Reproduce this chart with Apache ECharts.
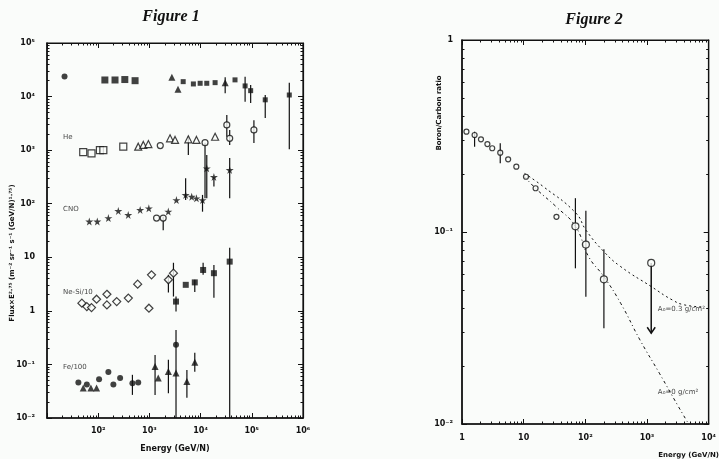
<!DOCTYPE html>
<html><head><meta charset="utf-8">
<script src="https://cdn.jsdelivr.net/npm/echarts@6/dist/echarts.min.js"></script>
<style>html,body{margin:0;padding:0;background:#fafcfa}#c{width:719px;height:459px}</style>
</head><body><div id="c"></div>
<script>
// ---------- Figure 1 data (Energy GeV/N, Flux*E^2.75) ----------
const pCircE = [22];
const pCircV = [23600];
const pSqE = [135, 213, 331, 525];
const pSqV = [20400, 20400, 20800, 19800];
const pTriE = [2750, 3620, 30200];
const pTriV = [23000, 13700, 18200];
const pOthE = [4570, 7230, 9800, 13200, 19200, 47000, 74000, 95000, 183000, 540000];
const pOthV = [19000, 17200, 17700, 17700, 18200, 20500, 15800, 12900, 8700, 10700];

const heSqE = [51, 74, 108, 126, 309];
const heSqV = [920, 870, 1000, 1000, 1160];
const heTriE = [605, 760, 955, 2530, 3170, 5760, 8300, 19200];
const heTriV = [1160, 1250, 1300, 1660, 1550, 1590, 1550, 1780];
const heCircE = [1630, 12200, 32500, 37000, 110000];
const heCircV = [1215, 1380, 2950, 1660, 2380];

const cnoStarE = [67, 96, 158, 247, 386, 660, 975, 2340, 3370, 5100, 6700, 8300, 10900, 13200, 18200, 37000];
const cnoStarV = [46.6, 46.6, 53.9, 73.5, 61.8, 76.5, 82, 71.3, 117, 146, 135, 126, 117, 458, 316, 427];
const cnoCircE = [1380, 1860];
const cnoCircV = [53.9, 53.9];

const neDiaE = [48, 60, 74, 93, 148, 148, 230, 388, 590, 980, 1100, 2350, 2950];
const neDiaV = [1.39, 1.2, 1.15, 1.65, 2.04, 1.29, 1.49, 1.73, 3.15, 1.12, 4.7, 3.8, 5.05];
const neFilE = [3310, 5130, 7700, 11200, 18200, 37000];
const neFilV = [1.49, 3.06, 3.4, 5.8, 5.05, 8.3];

const feCircE = [41, 60, 104, 158, 198, 268, 466, 605, 3310];
const feCircV = [0.046, 0.042, 0.053, 0.072, 0.042, 0.0556, 0.0447, 0.046, 0.232];
const feTriE = [51, 72, 93, 1290, 1490, 2350, 3310, 5400, 7700];
const feTriV = [0.0363, 0.0363, 0.0363, 0.091, 0.0556, 0.074, 0.069, 0.048, 0.11];

const err1E  = [30200, 74000, 95000, 183000, 540000, 5760, 12200, 32500, 37000, 110000, 5100, 10900, 13200, 18200, 37000, 1860, 2950, 2350, 3310, 18200, 7700, 11200, 37000, 466, 1290, 2350, 3310, 5400, 7700];
const err1Hi = [22900, 23500, 16400, 10700, 18200, 1800, 1380, 4540, 2380, 3630, 300, 146, 813, 316, 716, 57, 7.9, 4.7, 1.85, 7.2, 3.8, 7.9, 15, 0.064, 0.15, 0.122, 0.44, 0.079, 0.166];
const err1Lo = [11500, 8040, 7590, 3980, 1040, 813, 126, 1780, 1250, 1360, 117, 71, 126, 209, 126, 32, 1.85, 2.2, 0.97, 1.75, 2.26, 4.7, 0.01, 0.027, 0.027, 0.029, 0.01, 0.024, 0.073];

const groupNames = ['He', 'CNO', 'Ne-Si/10', 'Fe/100'];
const groupLabE = [20.6, 20.6, 20.6, 20.6];
const groupLabV = [1760, 80, 2.26, 0.09];

// ---------- Figure 2 data (Energy GeV/N, Boron/Carbon ratio) ----------
const bLowE = [1.18, 1.6, 2.03, 2.58, 3.09, 4.17, 5.6, 7.6, 10.9, 15.6, 34];
const bLowV = [0.333, 0.32, 0.304, 0.287, 0.273, 0.259, 0.239, 0.219, 0.194, 0.169, 0.12];
const bHighE = [69, 102, 200];
const bHighV = [0.107, 0.086, 0.0567];
const err2E  = [1.6, 4.17, 69, 102, 200];
const err2Hi = [0.333, 0.29, 0.15, 0.129, 0.0813];
const err2Lo = [0.278, 0.228, 0.0647, 0.046, 0.0315];
const ulE = [1170];
const ulFrom = [0.069];
const ulTo = [0.0297];

const curve03E = [10.3, 21, 70, 103, 200, 375, 1170, 2560, 4070, 8300];
const curve03V = [0.202, 0.172, 0.1256, 0.102, 0.079, 0.066, 0.052, 0.0443, 0.0417, 0.0407];
const curve0E = [10.3, 16.5, 34, 69, 113, 200, 375, 769, 1585, 3240, 4650];
const curve0V = [0.194, 0.166, 0.135, 0.107, 0.0744, 0.0585, 0.0425, 0.0274, 0.0184, 0.0123, 0.0101];
const curveNames = ['A\u2080=0.3 g/cm\u00b2', 'A\u2080=0 g/cm\u00b2'];
const curveLabE = [1500, 1500];
const curveLabV = [0.0395, 0.0147];

// ---------- helpers ----------
const zip = (a, b) => a.map((v, i) => [v, b[i]]);
const zip3 = (a, b, c) => a.map((v, i) => [v, b[i], c[i]]);
const SUP = {'0':'\u2070','1':'\u00b9','2':'\u00b2','3':'\u00b3','4':'\u2074','5':'\u2075','6':'\u2076','-':'\u207b'};
function pow10(v) {
  const e = Math.round(Math.log10(v));
  if (e === 0) return '1';
  if (e === 1) return '10';
  return '10' + String(e).split('').map(c => SUP[c]).join('');
}
const STAR = 'path://M50,0 L61,35 L98,35 L68,57 L79,91 L50,70 L21,91 L32,57 L2,35 L39,35 Z';
const FONT = 'DejaVu Sans';
const INK = '#111';

function errSeries(x, y, data) {
  return {
    type: 'custom', xAxisIndex: x, yAxisIndex: y, data: data, silent: true, z: 1,
    encode: {x: 0, y: [1, 2]},
    renderItem: function (params, api) {
      const a = api.coord([api.value(0), api.value(1)]);
      const b = api.coord([api.value(0), api.value(2)]);
      return {type: 'line', shape: {x1: a[0], y1: a[1], x2: b[0], y2: b[1]}, style: {stroke: INK, lineWidth: 1.2}};
    }
  };
}
function sc(x, y, data, symbol, size, filled) {
  return {
    type: 'scatter', xAxisIndex: x, yAxisIndex: y, data: data, symbol: symbol, symbolSize: size, z: 3,
    itemStyle: filled ? {color: INK} : {color: '#fafcfa', borderColor: INK, borderWidth: 1.2}
  };
}
function labSeries(x, y, names, es, vs, size) {
  return {
    type: 'scatter', xAxisIndex: x, yAxisIndex: y, symbolSize: 0, z: 4,
    data: names.map((n, i) => ({name: n, value: [es[i], vs[i]]})),
    label: {show: true, position: 'right', distance: 0, formatter: '{b}', color: INK, fontSize: size, fontFamily: FONT}
  };
}
function logAxis(grid, min, max, fmt, labelMargin) {
  return {
    type: 'log', logBase: 10, gridIndex: grid, min: min, max: max,
    axisLine: {show: true, lineStyle: {color: INK, width: 1.5}},
    axisTick: {inside: true, length: 5, lineStyle: {color: INK}},
    minorTick: {show: true, splitNumber: 9, length: 2.5, lineStyle: {color: INK}},
    splitLine: {show: false},
    axisLabel: {show: !!fmt, formatter: fmt || '', color: INK, fontSize: 8, fontFamily: FONT, margin: labelMargin, fontWeight: 'bold'}
  };
}
function mirror(ax, pos) { ax.position = pos; ax.axisLine.lineStyle.width = 1.2; return ax; }

const chart = echarts.init(document.getElementById('c'), null, {renderer: 'canvas'});
chart.setOption({
  backgroundColor: '#fafcfa',
  animation: false,
  grid: [
    {left: 47, top: 43, width: 256, height: 375, show: true, borderColor: INK, borderWidth: 1.2, backgroundColor: 'transparent'},
    {left: 462, top: 40, width: 255, height: 384, show: true, borderColor: INK, borderWidth: 1.2, backgroundColor: 'transparent'}
  ],
  xAxis: [
    Object.assign(logAxis(0, 10, 1e6, v => (Math.round(Math.log10(v)) === 1 ? '' : pow10(v)), 9),
      {name: 'Energy (GeV/N)', nameLocation: 'middle', nameGap: 27, nameTextStyle: {fontSize: 8, fontFamily: FONT, color: INK, fontWeight: 'bold'}}),
    logAxis(1, 1, 1e4, pow10, 10),
    mirror(logAxis(0, 10, 1e6, null, 0), 'top'),
    mirror(logAxis(1, 1, 1e4, null, 0), 'top')
  ],
  yAxis: [
    logAxis(0, 0.01, 1e5, pow10, 12),
    logAxis(1, 0.01, 1, pow10, 9),
    mirror(logAxis(0, 0.01, 1e5, null, 0), 'right'),
    mirror(logAxis(1, 0.01, 1, null, 0), 'right')
  ],
  graphic: [
    {type: 'text', x: 171, y: 17, style: {text: 'Figure 1', font: 'italic bold 16px "Liberation Serif"', fill: INK, textAlign: 'center', textVerticalAlign: 'middle'}},
    {type: 'text', x: 594, y: 20, style: {text: 'Figure 2', font: 'italic bold 16px "Liberation Serif"', fill: INK, textAlign: 'center', textVerticalAlign: 'middle'}},
    {type: 'text', x: 12, y: 253, rotation: Math.PI / 2, style: {text: 'Flux\u00d7E\u00b2\u00b7\u2077\u2075 (m\u207b\u00b2 sr\u207b\u00b9 s\u207b\u00b9 (GeV/N)\u00b9\u00b7\u2077\u2075)', font: 'bold 7px "DejaVu Sans"', fill: INK, textAlign: 'center', textVerticalAlign: 'middle'}},
    {type: 'text', x: 439, y: 113, rotation: Math.PI / 2, style: {text: 'Boron/Carbon ratio', font: 'bold 7px "DejaVu Sans"', fill: INK, textAlign: 'center', textVerticalAlign: 'middle'}},
    {type: 'text', x: 719, y: 455, style: {text: 'Energy (GeV/N)', font: 'bold 7px "DejaVu Sans"', fill: INK, textAlign: 'right', textVerticalAlign: 'middle'}}
  ],
  series: [
    errSeries(0, 0, zip3(err1E, err1Hi, err1Lo)),
    sc(0, 0, zip(pCircE, pCircV), 'circle', 6, true),
    sc(0, 0, zip(pSqE, pSqV), 'rect', 7, true),
    sc(0, 0, zip(pTriE, pTriV), 'triangle', 7, true),
    sc(0, 0, zip(pOthE, pOthV), 'rect', 5, true),
    sc(0, 0, zip(heSqE, heSqV), 'rect', 7, false),
    sc(0, 0, zip(heTriE, heTriV), 'triangle', 7, false),
    sc(0, 0, zip(heCircE, heCircV), 'circle', 6, false),
    sc(0, 0, zip(cnoStarE, cnoStarV), STAR, 8, true),
    sc(0, 0, zip(cnoCircE, cnoCircV), 'circle', 6, false),
    sc(0, 0, zip(neDiaE, neDiaV), 'diamond', 8, false),
    sc(0, 0, zip(neFilE, neFilV), 'rect', 6, true),
    sc(0, 0, zip(feCircE, feCircV), 'circle', 6, true),
    sc(0, 0, zip(feTriE, feTriV), 'triangle', 7, true),
    labSeries(0, 0, groupNames, groupLabE, groupLabV, 7),

    {type: 'line', xAxisIndex: 1, yAxisIndex: 1, data: zip(curve03E, curve03V), smooth: true, symbol: 'none', z: 2,
      lineStyle: {color: INK, width: 1, type: [2, 3]}},
    {type: 'line', xAxisIndex: 1, yAxisIndex: 1, data: zip(curve0E, curve0V), smooth: true, symbol: 'none', z: 2,
      lineStyle: {color: INK, width: 1, type: [3, 3, 1, 3]}},
    errSeries(1, 1, zip3(err2E, err2Hi, err2Lo)),
    {type: 'custom', xAxisIndex: 1, yAxisIndex: 1, data: zip3(ulE, ulFrom, ulTo), encode: {x: 0, y: [1, 2]}, z: 2,
      renderItem: function (params, api) {
        const a = api.coord([api.value(0), api.value(1)]);
        const b = api.coord([api.value(0), api.value(2)]);
        return {type: 'group', children: [
          {type: 'line', shape: {x1: a[0], y1: a[1], x2: b[0], y2: b[1]}, style: {stroke: INK, lineWidth: 1.5}},
          {type: 'polyline', shape: {points: [[b[0] - 4, b[1] - 6], [b[0], b[1]], [b[0] + 4, b[1] - 6]]}, style: {stroke: INK, lineWidth: 1.5, fill: null}}
        ]};
      }},
    sc(1, 1, zip(bLowE, bLowV), 'circle', 5, false),
    sc(1, 1, zip(bHighE, bHighV), 'circle', 7, false),
    sc(1, 1, zip(ulE, ulFrom), 'circle', 7, false),
    labSeries(1, 1, curveNames, curveLabE, curveLabV, 7)
  ]
});
</script></body></html>
